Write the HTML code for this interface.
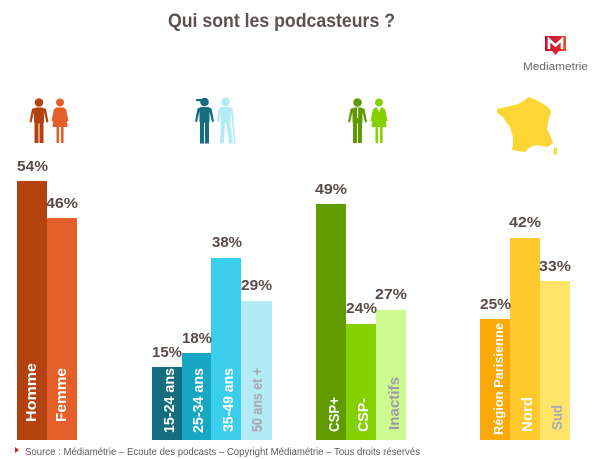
<!DOCTYPE html>
<html>
<head>
<meta charset="utf-8">
<style>
  html, body { margin:0; padding:0; background:#ffffff; }
  svg { display:block; }
  text { font-family: "Liberation Sans", "DejaVu Sans", sans-serif; }
</style>
</head>
<body>
<svg width="600" height="459" viewBox="0 0 600 459" xmlns="http://www.w3.org/2000/svg">
  <defs>
    <linearGradient id="mg" x1="0" y1="0" x2="1" y2="0">
      <stop offset="0" stop-color="#c9112f"/>
      <stop offset="0.7" stop-color="#d9262f"/>
      <stop offset="1" stop-color="#ec5a21"/>
    </linearGradient>
  </defs>

  <!-- Title -->
  <text x="168" y="27" font-size="19" font-weight="bold" fill="#5e5050" textLength="227" lengthAdjust="spacingAndGlyphs">Qui sont les podcasteurs ?</text>

  <!-- Logo -->
  <rect x="545" y="36" width="21" height="15" fill="url(#mg)"/>
  <polygon points="552,51 559,51 555.5,55" fill="#d9262f"/>
  <polyline points="549,49 549,39.5 555.5,45.5 562,39.5 562,49" fill="none" stroke="#ffffff" stroke-width="2.6" stroke-linejoin="miter"/>
  <text x="523" y="70" font-size="11" fill="#6a6a6a" textLength="65" lengthAdjust="spacingAndGlyphs">Mediametrie</text>

  <!-- Gender icons -->
  <g transform="translate(29,98)" fill="#b3420f">
    <circle cx="10" cy="4.5" r="4.3"/>
    <rect x="5" y="9.5" width="10" height="16" rx="2"/>
    <polygon points="5,10 3,11 0.5,24 2.5,24.5 5,14"/>
    <polygon points="15,10 17,11 19.5,24 17.5,24.5 15,14"/>
    <rect x="5.5" y="24" width="4" height="21"/>
    <rect x="10.5" y="24" width="4" height="21"/>
  </g>
  <g transform="translate(50,98)" fill="#e55f2a">
    <circle cx="10" cy="4.5" r="4"/>
    <polygon points="6,9.5 14,9.5 16,14 17.5,29 2.5,29 4,14"/>
    <polygon points="6,10 4,11 1.5,23 3.5,23.5 5.5,15"/>
    <polygon points="14,10 16,11 18.5,23 16.5,23.5 14.5,15"/>
    <rect x="6.5" y="28" width="2.6" height="17"/>
    <rect x="11" y="28" width="2.6" height="17"/>
  </g>

  <!-- Age icons -->
  <g transform="translate(195,97)" fill="#146e80">
    <circle cx="9.5" cy="5" r="4.3"/>
    <rect x="1" y="2" width="6" height="2.2" rx="1"/>
    <rect x="4.5" y="10" width="10" height="16" rx="2"/>
    <polygon points="4.5,10.5 2.5,11.5 0,24.5 2,25 4.5,14.5"/>
    <polygon points="14.5,10.5 16.5,11.5 19,24.5 17,25 14.5,14.5"/>
    <rect x="5" y="24.5" width="4" height="22"/>
    <rect x="10" y="24.5" width="4" height="22"/>
  </g>
  <g transform="translate(217,97)" fill="#b2eaf6">
    <circle cx="8.5" cy="5" r="4.2"/>
    <rect x="3.5" y="10" width="10" height="16" rx="2"/>
    <polygon points="3.5,10.5 1.5,11.5 0,24.5 2,25 3.5,14.5"/>
    <polygon points="13.5,10.5 15.5,11.5 17,23 15,23.5 13.5,14.5"/>
    <polygon points="4,24.5 8,24.5 7,46.5 3,46.5"/>
    <polygon points="9,24.5 13,24.5 16,46.5 12,46.5"/>
    <line x1="15.5" y1="23" x2="18" y2="46.5" stroke="#b2eaf6" stroke-width="1.6"/>
  </g>

  <!-- CSP icons -->
  <g transform="translate(348,98)" fill="#5f9b00">
    <circle cx="9.5" cy="4.5" r="4.3"/>
    <rect x="4.5" y="9.5" width="10" height="16" rx="2"/>
    <polygon points="4.5,10 2.5,11 0,24 2,24.5 4.5,14"/>
    <polygon points="14.5,10 16.5,11 19,24 17,24.5 14.5,14"/>
    <rect x="5" y="24" width="4" height="21"/>
    <rect x="10" y="24" width="4" height="21"/>
    <rect x="9" y="10" width="1.2" height="10" fill="#ffffff"/>
  </g>
  <g transform="translate(370,98)" fill="#85d100">
    <circle cx="9" cy="4.5" r="4"/>
    <polygon points="5,9.5 13,9.5 15,14 16.5,29 1.5,29 3,14"/>
    <polygon points="5,10 3,11 0.5,23 2.5,23.5 4.5,15"/>
    <polygon points="13,10 15,11 17.5,23 15.5,23.5 13.5,15"/>
    <rect x="5.5" y="28" width="2.6" height="17"/>
    <rect x="10" y="28" width="2.6" height="17"/>
    <polygon points="7,9.5 11,9.5 9,14" fill="#ffffff"/>
  </g>

  <!-- France map -->
  <polygon fill="#fdd535" points="497,109 510,106 518,104 525,100 528,97 534,99 540,102 548,107 551,112 549,118 548,123 547,129 550,135 553,143 548,147 541,146 537,145 530,147 525,152 517,151 512,150 513,143 513,137 511,131 510,127 506,122 503,117 497,113"/>
  <polygon fill="#fdd535" points="554,147 557,148 557,154 554,155"/>

  <!-- Bars: gender -->
  <rect x="17" y="181" width="30" height="259" fill="#b3420f"/>
  <rect x="47" y="218" width="30" height="222" fill="#e55f2a"/>
  <!-- Bars: age -->
  <rect x="152" y="367" width="30" height="73" fill="#146e80"/>
  <rect x="182" y="353" width="29" height="87" fill="#17a7c5"/>
  <rect x="211" y="258" width="30" height="182" fill="#3acdec"/>
  <rect x="241" y="301" width="31" height="139" fill="#b2eaf6"/>
  <!-- Bars: CSP -->
  <rect x="316" y="204" width="30" height="236" fill="#609c00"/>
  <rect x="346" y="324" width="30" height="116" fill="#85d100"/>
  <rect x="376" y="310" width="30" height="130" fill="#cffa8f"/>
  <!-- Bars: region -->
  <rect x="480" y="319" width="30" height="121" fill="#fba90a"/>
  <rect x="510" y="238" width="30" height="202" fill="#ffc92b"/>
  <rect x="540" y="281" width="30" height="159" fill="#fee56a"/>

  <!-- Percent labels -->
  <g font-size="15" font-weight="bold" fill="#5b4a4a">
    <text x="17" y="171" textLength="31" lengthAdjust="spacingAndGlyphs">54%</text>
    <text x="46" y="208" textLength="32" lengthAdjust="spacingAndGlyphs">46%</text>
    <text x="152" y="357" textLength="30" lengthAdjust="spacingAndGlyphs">15%</text>
    <text x="182" y="343" textLength="30" lengthAdjust="spacingAndGlyphs">18%</text>
    <text x="212" y="247" textLength="30" lengthAdjust="spacingAndGlyphs">38%</text>
    <text x="241" y="290" textLength="31" lengthAdjust="spacingAndGlyphs">29%</text>
    <text x="315" y="194" textLength="32" lengthAdjust="spacingAndGlyphs">49%</text>
    <text x="346" y="313" textLength="31" lengthAdjust="spacingAndGlyphs">24%</text>
    <text x="375" y="299" textLength="32" lengthAdjust="spacingAndGlyphs">27%</text>
    <text x="480" y="309" textLength="31" lengthAdjust="spacingAndGlyphs">25%</text>
    <text x="509" y="227" textLength="32" lengthAdjust="spacingAndGlyphs">42%</text>
    <text x="539" y="271" textLength="32" lengthAdjust="spacingAndGlyphs">33%</text>
  </g>

  <!-- Vertical bar labels -->
  <g font-size="15" font-weight="bold">
    <text transform="translate(36,422) rotate(-90)" fill="#ffffff" textLength="59" lengthAdjust="spacingAndGlyphs">Homme</text>
    <text transform="translate(66,422) rotate(-90)" fill="#ffffff" textLength="54" lengthAdjust="spacingAndGlyphs">Femme</text>
    <text transform="translate(174,433) rotate(-90)" fill="#ffffff" textLength="65" lengthAdjust="spacingAndGlyphs">15-24 ans</text>
    <text transform="translate(203,433) rotate(-90)" fill="#ffffff" textLength="65" lengthAdjust="spacingAndGlyphs">25-34 ans</text>
    <text transform="translate(233,432) rotate(-90)" fill="#ffffff" textLength="64" lengthAdjust="spacingAndGlyphs">35-49 ans</text>
    <text transform="translate(262,432) rotate(-90)" fill="#a6a6ae" textLength="64" lengthAdjust="spacingAndGlyphs">50 ans et +</text>
    <text transform="translate(339,432) rotate(-90)" fill="#ffffff" textLength="35" lengthAdjust="spacingAndGlyphs">CSP+</text>
    <text transform="translate(368,432) rotate(-90)" fill="#ffffff" textLength="34" lengthAdjust="spacingAndGlyphs">CSP-</text>
    <text transform="translate(399,430) rotate(-90)" fill="#9c9ca6" textLength="53" lengthAdjust="spacingAndGlyphs">Inactifs</text>
    <text transform="translate(503,435) rotate(-90)" fill="#ffffff" font-size="13" textLength="112" lengthAdjust="spacingAndGlyphs">Région Parisienne</text>
    <text transform="translate(532,432) rotate(-90)" fill="#ffffff" textLength="35" lengthAdjust="spacingAndGlyphs">Nord</text>
    <text transform="translate(562,430) rotate(-90)" fill="#a8a8b8" textLength="25" lengthAdjust="spacingAndGlyphs">Sud</text>
  </g>

  <!-- Footer -->
  <polygon points="15,447 19,450 15,453" fill="#d2232a"/>
  <text x="25" y="455" font-size="10" fill="#5a5a5a" textLength="395" lengthAdjust="spacingAndGlyphs">Source : Médiamétrie –  Ecoute des podcasts – Copyright Médiamétrie – Tous droits réservés</text>
</svg>
</body>
</html>
